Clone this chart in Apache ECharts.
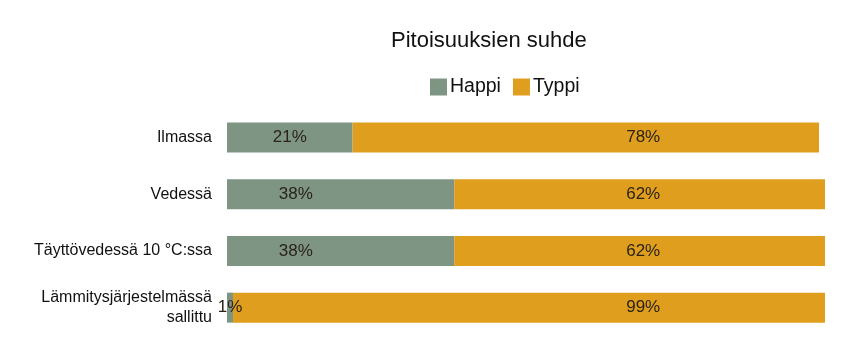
<!DOCTYPE html>
<html>
<head>
<meta charset="utf-8">
<script src="https://cdn.jsdelivr.net/npm/echarts@6/dist/echarts.min.js"></script>
<style>
  html, body { margin: 0; padding: 0; background: #fff; }
  #chart { width: 855px; height: 350px; }
</style>
</head>
<body>
<div id="chart"></div>
<script>
// Kaasujen pitoisuussuhteet (%)
const categories = ['Ilmassa', 'Vedessä', 'Täyttövedessä 10 °C:ssa', 'Lämmitysjärjestelmässä\nsallittu'];
const happi = [21, 38, 38, 1];
const typpi = [78, 62, 62, 99];

const GRID_LEFT = 227;
const GRID_RIGHT = 30;
const CHART_W = 855;
const plotW = CHART_W - GRID_LEFT - GRID_RIGHT;
// Label anchor points along the x axis (percent of axis)
const happiLabelAt = 11.5;
const typpiLabelAt = 69.6;

const FONT = "'Liberation Sans', Arial, sans-serif";

const chart = echarts.init(document.getElementById('chart'), null, { renderer: 'canvas' });

const valueLabel = {
  show: true,
  formatter: '{c}%',
  color: '#2a2418',
  fontSize: 17,
  fontFamily: FONT
};

function anchorX(pct) { return GRID_LEFT + plotW * pct / 100; }

chart.setOption({
  animation: false,
  title: {
    text: 'Pitoisuuksien suhde',
    left: 386,
    top: 25,
    textStyle: { fontSize: 22, fontWeight: 'normal', color: '#111', fontFamily: FONT }
  },
  legend: {
    left: 430,
    top: 77,
    padding: 0,
    itemWidth: 17,
    itemHeight: 17,
    itemGap: 12,
    icon: 'rect',
    textStyle: { fontSize: 19.5, color: '#111', fontFamily: FONT, padding: [0, 0, 0, -2] },
    data: ['Happi', 'Typpi']
  },
  grid: { left: GRID_LEFT, right: GRID_RIGHT, top: 109, bottom: 14, containLabel: false },
  xAxis: {
    type: 'value',
    min: 0,
    max: 100,
    show: false
  },
  yAxis: {
    type: 'category',
    inverse: true,
    data: categories,
    axisLine: { show: false },
    axisTick: { show: false },
    axisLabel: {
      margin: 15,
      fontSize: 16,
      lineHeight: 20,
      color: '#111',
      align: 'right',
      fontFamily: FONT
    }
  },
  series: [
    {
      name: 'Happi',
      type: 'bar',
      stack: 'total',
      data: happi,
      barWidth: 30,
      itemStyle: { color: '#7e9584' },
      label: valueLabel,
      labelLayout: function (p) {
        const center = p.rect.x + p.rect.width / 2;
        return { x: Math.min(center, anchorX(happiLabelAt)), y: p.rect.y + p.rect.height / 2, align: 'center', verticalAlign: 'middle' };
      }
    },
    {
      name: 'Typpi',
      type: 'bar',
      stack: 'total',
      data: typpi,
      barWidth: 30,
      itemStyle: { color: '#e09e1f' },
      label: valueLabel,
      labelLayout: function (p) {
        const center = p.rect.x + p.rect.width / 2;
        return { x: Math.max(center, anchorX(typpiLabelAt)), y: p.rect.y + p.rect.height / 2, align: 'center', verticalAlign: 'middle' };
      }
    }
  ]
});
</script>
</body>
</html>
